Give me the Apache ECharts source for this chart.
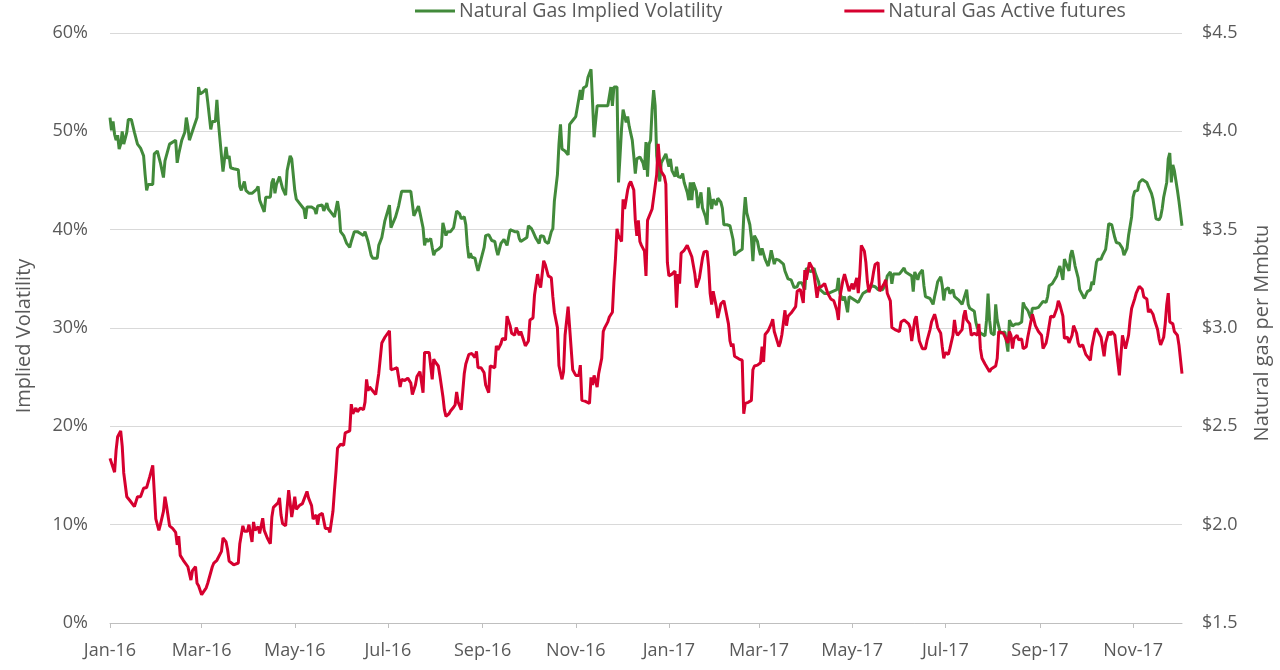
<!DOCTYPE html>
<html>
<head>
<meta charset="utf-8">
<script src="https://cdn.jsdelivr.net/npm/echarts@6/dist/echarts.min.js"></script>
<style>
html,body{margin:0;padding:0;background:#fff;}
#chart{width:1280px;height:670px;}
</style>
</head>
<body>
<div id="chart"></div>
<script>
// Axis range (first and last day of the daily date axis)
const startDate = '2016-01-01';
const endDate = '2017-12-03';

// Tick positions and their labels
const tickDates = ['2016-01-01','2016-03-01','2016-05-01','2016-07-01','2016-09-01','2016-11-01',
  '2017-01-01','2017-03-01','2017-05-01','2017-07-01','2017-09-01','2017-11-01'];
const tickLabels = ['Jan-16','Mar-16','May-16','Jul-16','Sep-16','Nov-16',
  'Jan-17','Mar-17','May-17','Jul-17','Sep-17','Nov-17'];

const seriesNames = ['Natural Gas Implied Volatility', 'Natural Gas Active futures'];

// Natural Gas Implied Volatility (%)
const impliedVol = [
['2016-01-01',51.4],['2016-01-02',50.1],['2016-01-03',51.0],['2016-01-04',49.7],['2016-01-05',49.1],['2016-01-06',49.6],['2016-01-07',48.2],['2016-01-08',48.7],['2016-01-09',50.0],['2016-01-10',48.7],
['2016-01-12',49.9],['2016-01-13',51.2],['2016-01-15',51.2],['2016-01-17',49.9],['2016-01-18',49.9],['2016-01-19',48.7],['2016-01-21',48.3],['2016-01-23',47.5],['2016-01-24',45.6],['2016-01-25',44.0],
['2016-01-26',44.6],['2016-01-29',44.6],['2016-01-30',47.7],['2016-02-01',48.0],['2016-02-03',46.8],['2016-02-05',45.3],['2016-02-06',47.0],['2016-02-07',47.2],['2016-02-09',48.7],['2016-02-10',48.9],
['2016-02-13',49.1],['2016-02-14',46.8],['2016-02-15',47.7],['2016-02-17',49.1],['2016-02-19',49.9],['2016-02-20',51.4],['2016-02-21',50.5],['2016-02-22',49.1],['2016-02-23',48.9],['2016-02-25',50.5],
['2016-02-27',51.4],['2016-02-28',54.5],['2016-02-29',53.8],['2016-03-02',54.0],['2016-03-04',54.3],['2016-03-05',53.0],['2016-03-07',50.2],['2016-03-08',51.0],['2016-03-10',51.0],['2016-03-11',53.2],
['2016-03-12',50.9],['2016-03-14',47.5],['2016-03-15',45.9],['2016-03-16',47.2],['2016-03-17',48.4],['2016-03-18',47.2],['2016-03-19',47.5],['2016-03-20',46.3],['2016-03-22',46.2],['2016-03-25',46.1],
['2016-03-26',44.4],['2016-03-27',44.0],['2016-03-29',44.9],['2016-03-30',44.0],['2016-04-01',43.7],['2016-04-02',43.6],['2016-04-03',43.7],['2016-04-04',43.5],['2016-04-06',44.1],['2016-04-07',44.4],
['2016-04-08',43.0],['2016-04-09',42.9],['2016-04-11',41.8],['2016-04-12',43.3],['2016-04-15',43.3],['2016-04-16',44.8],['2016-04-17',45.2],['2016-04-18',43.7],['2016-04-19',44.6],['2016-04-21',45.4],
['2016-04-23',44.2],['2016-04-25',43.5],['2016-04-26',46.0],['2016-04-28',47.5],['2016-04-29',47.2],['2016-05-01',44.0],['2016-05-02',43.1],['2016-05-04',42.7],['2016-05-05',42.5],['2016-05-07',42.1],
['2016-05-08',41.1],['2016-05-09',42.3],['2016-05-12',42.3],['2016-05-14',42.1],['2016-05-15',41.6],['2016-05-16',42.4],['2016-05-19',42.5],['2016-05-20',41.9],['2016-05-22',42.7],['2016-05-23',42.1],
['2016-05-25',41.7],['2016-05-27',41.3],['2016-05-29',42.9],['2016-05-30',41.9],['2016-05-31',39.8],['2016-06-02',39.4],['2016-06-04',38.6],['2016-06-06',38.2],['2016-06-07',38.8],['2016-06-09',39.8],
['2016-06-11',39.8],['2016-06-13',39.6],['2016-06-15',39.4],['2016-06-16',39.8],['2016-06-18',38.8],['2016-06-20',37.4],['2016-06-21',37.1],['2016-06-24',37.1],['2016-06-25',38.4],['2016-06-27',39.2],
['2016-06-29',40.9],['2016-07-02',42.5],['2016-07-03',40.2],['2016-07-06',41.3],['2016-07-08',42.4],['2016-07-10',43.9],['2016-07-11',44.0],['2016-07-14',43.9],['2016-07-15',43.7],['2016-07-16',43.9],
['2016-07-18',41.4],['2016-07-19',41.6],['2016-07-21',42.4],['2016-07-22',41.7],['2016-07-24',40.2],['2016-07-25',38.4],['2016-07-26',39.1],['2016-07-27',38.8],['2016-07-29',39.1],['2016-07-30',38.2],
['2016-07-31',37.4],['2016-08-01',37.8],['2016-08-03',38.0],['2016-08-05',38.3],['2016-08-06',40.7],['2016-08-07',40.7],['2016-08-08',39.4],['2016-08-09',39.8],['2016-08-11',39.8],['2016-08-13',40.2],
['2016-08-14',40.0],['2016-08-15',41.9],['2016-08-17',41.6],['2016-08-18',41.1],['2016-08-20',41.3],['2016-08-21',40.5],['2016-08-22',38.4],['2016-08-23',37.1],['2016-08-24',37.6],['2016-08-25',37.2],
['2016-08-27',37.1],['2016-08-28',36.4],['2016-08-29',35.8],['2016-08-31',37.0],['2016-09-02',38.2],['2016-09-03',39.4],['2016-09-05',39.5],['2016-09-07',38.9],['2016-09-09',38.8],['2016-09-10',38.0],
['2016-09-11',37.4],['2016-09-13',38.6],['2016-09-15',39.0],['2016-09-16',39.1],['2016-09-17',38.4],['2016-09-19',40.0],['2016-09-20',40.2],['2016-09-22',39.8],['2016-09-24',39.8],['2016-09-25',39.1],
['2016-09-26',38.8],['2016-09-28',39.0],['2016-09-30',39.2],['2016-10-01',40.4],['2016-10-03',40.1],['2016-10-04',39.8],['2016-10-06',39.1],['2016-10-08',38.6],['2016-10-09',39.4],['2016-10-11',39.3],
['2016-10-12',38.8],['2016-10-14',38.6],['2016-10-16',39.8],['2016-10-17',40.1],['2016-10-18',42.9],['2016-10-20',45.6],['2016-10-21',48.7],['2016-10-22',50.7],['2016-10-23',48.2],['2016-10-25',48.0],
['2016-10-27',47.6],['2016-10-28',50.7],['2016-10-30',51.1],['2016-11-01',51.5],['2016-11-02',52.4],['2016-11-04',54.2],['2016-11-05',53.2],['2016-11-06',54.4],['2016-11-08',54.6],['2016-11-09',55.5],
['2016-11-11',56.3],['2016-11-12',53.0],['2016-11-13',49.4],['2016-11-15',52.6],['2016-11-19',52.6],['2016-11-22',52.6],['2016-11-24',54.5],['2016-11-25',52.6],['2016-11-26',54.5],['2016-11-28',54.5],
['2016-11-29',44.8],['2016-11-30',47.5],['2016-12-01',50.3],['2016-12-02',52.2],['2016-12-04',50.9],['2016-12-05',51.5],['2016-12-06',50.5],['2016-12-08',49.1],['2016-12-09',47.5],['2016-12-10',45.7],
['2016-12-11',47.2],['2016-12-13',47.4],['2016-12-15',46.8],['2016-12-16',46.1],['2016-12-17',48.9],['2016-12-18',45.4],['2016-12-19',48.7],['2016-12-20',49.1],['2016-12-21',52.2],['2016-12-22',54.2],
['2016-12-23',52.6],['2016-12-24',47.5],['2016-12-26',44.9],['2016-12-27',46.8],['2016-12-29',47.4],['2016-12-30',47.7],['2017-01-01',46.4],['2017-01-02',47.2],['2017-01-03',46.0],['2017-01-05',45.4],
['2017-01-06',46.4],['2017-01-07',45.4],['2017-01-09',45.3],['2017-01-10',45.7],['2017-01-11',44.8],['2017-01-13',43.8],['2017-01-14',43.0],['2017-01-15',44.8],['2017-01-16',43.0],['2017-01-17',44.8],
['2017-01-19',43.9],['2017-01-20',42.2],['2017-01-22',43.8],['2017-01-23',42.2],['2017-01-25',41.3],['2017-01-26',40.5],['2017-01-27',44.3],['2017-01-29',42.1],['2017-01-30',43.1],['2017-02-01',42.5],
['2017-02-02',43.2],['2017-02-04',42.8],['2017-02-05',42.2],['2017-02-06',40.5],['2017-02-08',40.5],['2017-02-10',40.4],['2017-02-12',39.0],['2017-02-13',37.4],['2017-02-15',37.7],['2017-02-18',38.0],
['2017-02-19',41.3],['2017-02-20',43.3],['2017-02-21',41.7],['2017-02-23',40.5],['2017-02-24',39.2],['2017-02-25',36.8],['2017-02-26',39.4],['2017-02-28',38.8],['2017-03-01',38.0],['2017-03-02',37.4],
['2017-03-03',38.1],['2017-03-05',37.0],['2017-03-06',37.0],['2017-03-07',36.3],['2017-03-08',37.0],['2017-03-09',37.9],['2017-03-11',36.5],['2017-03-12',37.0],['2017-03-14',36.9],['2017-03-15',36.7],
['2017-03-17',36.5],['2017-03-18',35.8],['2017-03-20',35.0],['2017-03-22',34.9],['2017-03-24',34.1],['2017-03-26',34.2],['2017-03-27',34.6],['2017-03-29',34.6],['2017-03-31',33.9],['2017-04-01',36.1],
['2017-04-02',36.1],['2017-04-04',35.7],['2017-04-05',35.9],['2017-04-06',36.1],['2017-04-07',35.5],['2017-04-09',34.7],['2017-04-10',33.9],['2017-04-13',33.5],['2017-04-15',33.5],['2017-04-18',33.7],
['2017-04-19',33.5],['2017-04-21',33.9],['2017-04-22',35.1],['2017-04-23',33.5],['2017-04-25',32.8],['2017-04-26',33.2],['2017-04-27',33.4],['2017-04-28',31.6],['2017-04-29',33.2],['2017-05-01',33.0],
['2017-05-03',32.8],['2017-05-05',32.6],['2017-05-06',32.4],['2017-05-08',33.5],['2017-05-09',33.7],['2017-05-11',33.8],['2017-05-12',33.9],['2017-05-14',34.3],['2017-05-16',34.2],['2017-05-18',33.9],
['2017-05-19',33.7],['2017-05-21',33.9],['2017-05-23',34.5],['2017-05-24',35.3],['2017-05-26',35.7],['2017-05-27',34.5],['2017-05-28',35.5],['2017-05-30',35.5],['2017-06-01',35.5],['2017-06-02',35.7],
['2017-06-04',36.1],['2017-06-05',35.7],['2017-06-07',35.5],['2017-06-09',35.3],['2017-06-10',33.7],['2017-06-11',35.7],['2017-06-12',35.3],['2017-06-13',34.9],['2017-06-14',35.5],['2017-06-16',35.9],
['2017-06-17',34.3],['2017-06-18',33.2],['2017-06-19',33.2],['2017-06-21',33.0],['2017-06-23',32.4],['2017-06-24',33.2],['2017-06-25',33.9],['2017-06-26',34.7],['2017-06-28',35.2],['2017-06-29',34.3],
['2017-06-30',32.8],['2017-07-01',33.9],['2017-07-03',34.1],['2017-07-04',33.5],['2017-07-06',33.9],['2017-07-07',33.2],['2017-07-08',33.4],['2017-07-10',32.8],['2017-07-11',32.6],['2017-07-12',32.4],
['2017-07-13',32.6],['2017-07-15',33.9],['2017-07-16',32.4],['2017-07-17',32.0],['2017-07-18',31.8],['2017-07-20',31.7],['2017-07-21',30.6],['2017-07-22',30.0],['2017-07-24',29.5],['2017-07-25',29.3],
['2017-07-27',29.2],['2017-07-28',30.8],['2017-07-29',33.5],['2017-07-30',30.8],['2017-07-31',29.5],['2017-08-02',29.3],['2017-08-03',32.4],['2017-08-04',30.8],['2017-08-06',29.5],['2017-08-07',29.3],
['2017-08-09',29.6],['2017-08-11',27.6],['2017-08-12',30.8],['2017-08-13',31.0],['2017-08-14',30.2],['2017-08-16',30.4],['2017-08-18',30.4],['2017-08-20',30.6],['2017-08-21',32.6],['2017-08-22',32.2],
['2017-08-24',31.8],['2017-08-25',31.6],['2017-08-26',31.0],['2017-08-27',32.0],['2017-08-29',32.0],['2017-08-31',32.1],['2017-09-01',32.2],['2017-09-03',32.7],['2017-09-04',32.6],['2017-09-05',32.6],
['2017-09-06',33.2],['2017-09-07',34.3],['2017-09-09',34.5],['2017-09-10',34.7],['2017-09-12',35.3],['2017-09-13',35.9],['2017-09-14',36.3],['2017-09-15',36.1],['2017-09-16',34.9],['2017-09-17',37.0],
['2017-09-18',36.6],['2017-09-20',35.8],['2017-09-21',37.4],['2017-09-22',37.9],['2017-09-23',37.2],['2017-09-24',36.3],['2017-09-26',35.1],['2017-09-27',33.9],['2017-09-29',33.3],['2017-09-30',33.0],
['2017-10-02',33.7],['2017-10-04',33.9],['2017-10-05',34.7],['2017-10-06',34.4],['2017-10-08',36.7],['2017-10-09',37.0],['2017-10-11',37.0],['2017-10-12',37.4],['2017-10-14',38.0],['2017-10-15',39.2],
['2017-10-16',40.6],['2017-10-17',40.7],['2017-10-18',40.5],['2017-10-20',39.2],['2017-10-21',38.7],['2017-10-23',38.6],['2017-10-25',38.1],['2017-10-26',37.4],['2017-10-28',38.1],['2017-10-29',39.4],
['2017-10-31',41.3],['2017-11-01',43.3],['2017-11-02',43.9],['2017-11-04',44.0],['2017-11-05',44.8],['2017-11-07',45.1],['2017-11-08',45.1],['2017-11-10',44.8],['2017-11-11',44.4],['2017-11-13',43.7],
['2017-11-14',43.1],['2017-11-15',42.1],['2017-11-16',41.1],['2017-11-18',41.0],['2017-11-19',41.3],['2017-11-20',42.1],['2017-11-21',43.3],['2017-11-23',44.8],['2017-11-24',47.2],['2017-11-25',47.8],
['2017-11-26',44.8],['2017-11-27',46.6],['2017-11-28',46.0],['2017-11-29',45.0],['2017-11-30',44.0],['2017-12-01',42.9],['2017-12-03',40.4]
];

// Natural Gas Active futures ($ per MMBtu)
const gasPrice = [
['2016-01-01',2.337],['2016-01-02',2.331],['2016-01-04',2.267],['2016-01-05',2.379],['2016-01-06',2.447],['2016-01-08',2.477],['2016-01-09',2.399],['2016-01-10',2.263],['2016-01-11',2.263],['2016-01-12',2.142],
['2016-01-14',2.123],['2016-01-17',2.092],['2016-01-19',2.142],['2016-01-21',2.142],['2016-01-23',2.185],['2016-01-25',2.189],['2016-01-27',2.243],['2016-01-29',2.302],['2016-01-30',2.165],['2016-01-31',2.029],
['2016-02-02',1.971],['2016-02-03',2.000],['2016-02-05',2.068],['2016-02-06',2.142],['2016-02-07',2.097],['2016-02-09',1.994],['2016-02-11',1.981],['2016-02-13',1.961],['2016-02-14',1.897],['2016-02-15',1.942],
['2016-02-16',1.844],['2016-02-18',1.819],['2016-02-19',1.815],['2016-02-21',1.786],['2016-02-22',1.776],['2016-02-23',1.718],['2016-02-24',1.766],['2016-02-26',1.786],['2016-02-27',1.702],['2016-02-28',1.689],
['2016-03-01',1.644],['2016-03-02',1.656],['2016-03-04',1.679],['2016-03-05',1.702],['2016-03-08',1.786],['2016-03-09',1.805],['2016-03-11',1.819],['2016-03-12',1.815],['2016-03-14',1.864],['2016-03-15',1.932],
['2016-03-17',1.912],['2016-03-18',1.873],['2016-03-19',1.815],['2016-03-20',1.825],['2016-03-22',1.796],['2016-03-25',1.805],['2016-03-26',1.903],['2016-03-28',1.994],['2016-03-29',1.967],['2016-03-31',1.967],
['2016-04-01',2.000],['2016-04-03',1.912],['2016-04-04',2.014],['2016-04-05',1.971],['2016-04-07',1.990],['2016-04-08',1.955],['2016-04-10',2.033],['2016-04-11',1.971],['2016-04-13',1.932],['2016-04-15',1.903],
['2016-04-16',2.039],['2016-04-17',2.088],['2016-04-18',2.084],['2016-04-20',2.111],['2016-04-21',2.136],['2016-04-22',2.049],['2016-04-23',2.006],['2016-04-25',1.994],['2016-04-26',2.088],['2016-04-27',2.175],
['2016-04-29',2.039],['2016-04-30',2.088],['2016-05-01',2.142],['2016-05-02',2.078],['2016-05-04',2.097],['2016-05-06',2.107],['2016-05-07',2.111],['2016-05-09',2.169],['2016-05-10',2.136],['2016-05-12',2.097],
['2016-05-13',2.029],['2016-05-15',2.049],['2016-05-16',2.000],['2016-05-17',2.049],['2016-05-19',2.058],['2016-05-20',2.053],['2016-05-21',1.981],['2016-05-23',1.981],['2016-05-24',1.961],['2016-05-26',2.068],
['2016-05-27',2.175],['2016-05-28',2.272],['2016-05-29',2.389],['2016-05-31',2.409],['2016-06-02',2.403],['2016-06-03',2.467],['2016-06-06',2.477],['2016-06-07',2.613],['2016-06-08',2.564],['2016-06-10',2.593],
['2016-06-11',2.574],['2016-06-13',2.593],['2016-06-15',2.584],['2016-06-16',2.623],['2016-06-17',2.739],['2016-06-18',2.681],['2016-06-19',2.700],['2016-06-21',2.681],['2016-06-23',2.662],['2016-06-25',2.769],
['2016-06-27',2.924],['2016-06-29',2.953],['2016-07-02',2.986],['2016-07-03',2.788],['2016-07-05',2.792],['2016-07-07',2.798],['2016-07-09',2.700],['2016-07-10',2.739],['2016-07-12',2.733],['2016-07-14',2.745],
['2016-07-15',2.753],['2016-07-16',2.720],['2016-07-17',2.662],['2016-07-19',2.710],['2016-07-20',2.753],['2016-07-22',2.778],['2016-07-24',2.671],['2016-07-25',2.876],['2016-07-26',2.880],['2016-07-28',2.876],
['2016-07-30',2.739],['2016-07-31',2.842],['2016-08-01',2.827],['2016-08-03',2.807],['2016-08-04',2.759],['2016-08-06',2.652],['2016-08-07',2.584],['2016-08-08',2.551],['2016-08-10',2.564],['2016-08-11',2.578],
['2016-08-13',2.597],['2016-08-14',2.609],['2016-08-15',2.675],['2016-08-16',2.623],['2016-08-18',2.584],['2016-08-20',2.769],['2016-08-21',2.817],['2016-08-23',2.866],['2016-08-25',2.870],['2016-08-27',2.850],
['2016-08-28',2.881],['2016-08-29',2.798],['2016-08-31',2.798],['2016-09-01',2.792],['2016-09-02',2.772],['2016-09-03',2.710],['2016-09-05',2.671],['2016-09-06',2.807],['2016-09-07',2.798],['2016-09-09',2.798],
['2016-09-10',2.909],['2016-09-11',2.889],['2016-09-13',2.920],['2016-09-14',2.947],['2016-09-16',2.940],['2016-09-17',3.060],['2016-09-19',3.012],['2016-09-20',2.973],['2016-09-22',2.963],['2016-09-23',3.002],
['2016-09-25',2.963],['2016-09-26',2.982],['2016-09-28',2.934],['2016-09-29',2.909],['2016-10-01',2.934],['2016-10-02',3.041],['2016-10-04',3.051],['2016-10-05',3.168],['2016-10-07',3.274],['2016-10-08',3.226],
['2016-10-09',3.206],['2016-10-11',3.342],['2016-10-12',3.323],['2016-10-13',3.294],['2016-10-14',3.265],['2016-10-16',3.255],['2016-10-17',3.158],['2016-10-18',3.080],['2016-10-20',3.002],['2016-10-21',2.808],
['2016-10-23',2.739],['2016-10-24',2.778],['2016-10-25',2.963],['2016-10-27',3.109],['2016-10-28',3.002],['2016-10-30',2.788],['2016-11-01',2.759],['2016-11-03',2.759],['2016-11-04',2.811],['2016-11-05',2.632],
['2016-11-07',2.628],['2016-11-08',2.622],['2016-11-10',2.617],['2016-11-11',2.749],['2016-11-12',2.710],['2016-11-13',2.759],['2016-11-15',2.700],['2016-11-16',2.768],['2016-11-18',2.846],['2016-11-19',2.982],
['2016-11-20',3.002],['2016-11-22',3.031],['2016-11-23',3.056],['2016-11-25',3.080],['2016-11-26',3.235],['2016-11-27',3.352],['2016-11-28',3.504],['2016-11-29',3.469],['2016-12-01',3.440],['2016-12-02',3.654],
['2016-12-03',3.605],['2016-12-05',3.702],['2016-12-06',3.732],['2016-12-07',3.745],['2016-12-09',3.702],['2016-12-10',3.547],['2016-12-11',3.469],['2016-12-12',3.547],['2016-12-13',3.440],['2016-12-14',3.420],
['2016-12-15',3.411],['2016-12-16',3.391],['2016-12-17',3.265],['2016-12-18',3.547],['2016-12-19',3.556],['2016-12-21',3.605],['2016-12-22',3.663],['2016-12-24',3.780],['2016-12-25',3.936],['2016-12-26',3.839],
['2016-12-27',3.796],['2016-12-29',3.771],['2016-12-30',3.732],['2016-12-31',3.333],['2017-01-01',3.265],['2017-01-03',3.274],['2017-01-05',3.290],['2017-01-06',3.103],['2017-01-07',3.274],['2017-01-08',3.226],
['2017-01-09',3.381],['2017-01-11',3.395],['2017-01-13',3.420],['2017-01-14',3.411],['2017-01-16',3.362],['2017-01-17',3.352],['2017-01-18',3.274],['2017-01-19',3.206],['2017-01-21',3.255],['2017-01-23',3.356],
['2017-01-24',3.387],['2017-01-26',3.391],['2017-01-27',3.313],['2017-01-28',3.177],['2017-01-29',3.119],['2017-01-30',3.187],['2017-02-01',3.109],['2017-02-02',3.051],['2017-02-04',3.123],['2017-02-06',3.138],
['2017-02-07',3.099],['2017-02-09',3.021],['2017-02-10',2.934],['2017-02-11',2.905],['2017-02-12',2.920],['2017-02-13',2.856],['2017-02-16',2.842],['2017-02-18',2.836],['2017-02-19',2.564],['2017-02-20',2.617],
['2017-02-22',2.622],['2017-02-24',2.632],['2017-02-25',2.788],['2017-02-26',2.807],['2017-02-28',2.811],['2017-03-02',2.823],['2017-03-03',2.905],['2017-03-04',2.827],['2017-03-05',2.967],['2017-03-07',2.986],
['2017-03-09',3.021],['2017-03-10',3.045],['2017-03-11',2.982],['2017-03-12',2.973],['2017-03-14',2.905],['2017-03-15',2.928],['2017-03-16',2.967],['2017-03-18',3.090],['2017-03-19',3.012],['2017-03-20',3.060],
['2017-03-22',3.076],['2017-03-23',3.076],['2017-03-25',3.109],['2017-03-26',3.187],['2017-03-28',3.197],['2017-03-29',3.197],['2017-03-30',3.128],['2017-03-31',3.294],['2017-04-01',3.245],['2017-04-03',3.333],
['2017-04-05',3.304],['2017-04-06',3.274],['2017-04-07',3.216],['2017-04-08',3.154],['2017-04-09',3.206],['2017-04-11',3.212],['2017-04-13',3.226],['2017-04-15',3.177],['2017-04-17',3.148],['2017-04-19',3.138],
['2017-04-21',3.090],['2017-04-22',3.041],['2017-04-23',3.158],['2017-04-25',3.245],['2017-04-26',3.274],['2017-04-29',3.187],['2017-04-30',3.181],['2017-05-01',3.226],['2017-05-02',3.197],['2017-05-04',3.255],
['2017-05-05',3.177],['2017-05-06',3.274],['2017-05-07',3.420],['2017-05-09',3.391],['2017-05-10',3.333],['2017-05-11',3.235],['2017-05-12',3.181],['2017-05-14',3.235],['2017-05-15',3.284],['2017-05-16',3.323],
['2017-05-18',3.333],['2017-05-19',3.187],['2017-05-20',3.197],['2017-05-22',3.226],['2017-05-23',3.245],['2017-05-24',3.177],['2017-05-26',3.138],['2017-05-27',3.002],['2017-05-29',2.992],['2017-06-01',2.982],
['2017-06-02',3.031],['2017-06-04',3.041],['2017-06-05',3.031],['2017-06-07',3.021],['2017-06-08',3.002],['2017-06-09',2.934],['2017-06-11',3.041],['2017-06-12',3.060],['2017-06-13',2.992],['2017-06-14',2.934],
['2017-06-16',2.895],['2017-06-18',2.895],['2017-06-19',2.934],['2017-06-21',2.992],['2017-06-22',3.031],['2017-06-24',3.070],['2017-06-25',3.041],['2017-06-26',3.002],['2017-06-28',2.973],['2017-06-29',2.905],
['2017-06-30',2.846],['2017-07-01',2.875],['2017-07-03',2.866],['2017-07-04',2.895],['2017-07-06',2.963],['2017-07-07',3.041],['2017-07-08',2.982],['2017-07-09',2.963],['2017-07-10',2.973],['2017-07-12',2.992],
['2017-07-13',3.060],['2017-07-14',3.090],['2017-07-15',3.041],['2017-07-17',3.021],['2017-07-18',2.963],['2017-07-19',2.953],['2017-07-20',2.973],['2017-07-22',2.963],['2017-07-23',3.021],['2017-07-24',2.895],
['2017-07-25',2.846],['2017-07-27',2.817],['2017-07-28',2.817],['2017-07-30',2.778],['2017-07-31',2.792],['2017-08-03',2.807],['2017-08-04',2.846],['2017-08-05',2.982],['2017-08-06',2.982],['2017-08-08',2.973],
['2017-08-09',2.963],['2017-08-11',2.924],['2017-08-12',2.982],['2017-08-13',2.963],['2017-08-14',2.895],['2017-08-15',2.947],['2017-08-17',2.963],['2017-08-18',2.940],['2017-08-20',2.944],['2017-08-21',2.895],
['2017-08-23',2.905],['2017-08-24',2.953],['2017-08-25',2.944],['2017-08-27',3.070],['2017-08-28',3.060],['2017-08-29',3.012],['2017-08-31',2.982],['2017-09-01',2.992],['2017-09-02',2.963],['2017-09-03',2.895],
['2017-09-05',2.924],['2017-09-06',2.963],['2017-09-08',3.060],['2017-09-09',3.070],['2017-09-10',3.056],['2017-09-12',3.099],['2017-09-13',3.138],['2017-09-14',3.119],['2017-09-16',3.060],['2017-09-17',2.947],
['2017-09-19',2.953],['2017-09-20',2.924],['2017-09-22',2.963],['2017-09-23',3.012],['2017-09-25',2.973],['2017-09-26',2.924],['2017-09-27',2.905],['2017-09-29',2.914],['2017-09-30',2.909],['2017-10-01',2.866],
['2017-10-02',2.856],['2017-10-04',2.836],['2017-10-05',2.905],['2017-10-07',2.982],['2017-10-08',2.998],['2017-10-09',2.982],['2017-10-11',2.953],['2017-10-12',2.963],['2017-10-13',2.856],['2017-10-14',2.924],
['2017-10-16',2.982],['2017-10-17',2.963],['2017-10-18',2.982],['2017-10-20',2.963],['2017-10-21',2.895],['2017-10-22',2.827],['2017-10-23',2.759],['2017-10-25',2.963],['2017-10-26',2.973],['2017-10-27',2.895],
['2017-10-28',2.895],['2017-10-29',2.963],['2017-10-30',3.041],['2017-10-31',3.099],['2017-11-02',3.148],['2017-11-03',3.177],['2017-11-05',3.212],['2017-11-07',3.197],['2017-11-08',3.158],['2017-11-10',3.148],
['2017-11-11',3.080],['2017-11-12',3.095],['2017-11-14',3.070],['2017-11-15',3.041],['2017-11-17',2.992],['2017-11-18',2.944],['2017-11-19',2.914],['2017-11-21',2.953],['2017-11-22',3.021],['2017-11-23',3.119],
['2017-11-24',3.177],['2017-11-25',3.031],['2017-11-26',3.041],['2017-11-27',3.021],['2017-11-28',2.982],['2017-11-30',2.963],['2017-12-01',2.914],['2017-12-02',2.914],['2017-12-03',2.768]
];

// Daily category list for the date axis
const days = [];
(function () {
  const d = new Date(startDate + 'T00:00:00Z');
  const end = new Date(endDate + 'T00:00:00Z');
  while (d <= end) {
    days.push(d.toISOString().slice(0, 10));
    d.setUTCDate(d.getUTCDate() + 1);
  }
})();

const isTick = (idx, val) => tickDates.indexOf(val) !== -1;
const textColor = '#595959';
const fontFamily = "'Open Sans', sans-serif";

const chart = echarts.init(document.getElementById('chart'), null, { renderer: 'canvas' });
chart.setOption({
  animation: false,
  backgroundColor: '#ffffff',
  textStyle: { fontFamily: fontFamily, color: textColor },
  legend: {
    top: -4,
    left: 410,
    itemGap: 122,
    itemWidth: 40,
    itemHeight: 3,
    icon: 'rect',
    textStyle: { fontSize: 19.5, color: textColor, fontFamily: fontFamily, padding: [0, 0, 0, -1] },
    data: seriesNames
  },
  grid: { left: 110, right: 98, top: 33, bottom: 47, containLabel: false, outerBoundsMode: 'none' },
  xAxis: {
    type: 'category',
    data: days,
    boundaryGap: false,
    axisLine: { show: true, lineStyle: { color: '#bfbfbf', width: 1 } },
    axisTick: { show: true, interval: isTick, length: 5, lineStyle: { color: '#bfbfbf' } },
    axisLabel: {
      interval: isTick,
      margin: 19,
      fontSize: 18,
      color: textColor,
      fontFamily: fontFamily,
      formatter: (val) => tickLabels[tickDates.indexOf(val)]
    },
    splitLine: { show: false }
  },
  yAxis: [
    {
      type: 'value',
      min: 0, max: 60, interval: 10,
      name: 'Implied Volatility',
      nameLocation: 'middle',
      nameRotate: 90,
      nameGap: 76,
      nameTextStyle: { fontSize: 20, color: textColor, fontFamily: fontFamily, padding: [0, 16, 0, 0] },
      axisLine: { show: false },
      axisTick: { show: false },
      axisLabel: { formatter: '{value}%', fontSize: 18, color: textColor, margin: 22, fontFamily: fontFamily },
      splitLine: { show: true, lineStyle: { color: '#d9d9d9', width: 1 } }
    },
    {
      type: 'value',
      min: 1.5, max: 4.5, interval: 0.5,
      name: 'Natural gas per Mmbtu',
      nameLocation: 'middle',
      nameRotate: 90,
      nameGap: 70,
      nameTextStyle: { fontSize: 20, color: textColor, fontFamily: fontFamily, padding: [0, 10, 0, 0] },
      axisLine: { show: false },
      axisTick: { show: false },
      axisLabel: { formatter: (v) => '$' + v.toFixed(1), fontSize: 18, color: textColor, margin: 20, fontFamily: fontFamily },
      splitLine: { show: false }
    }
  ],
  series: [
    {
      name: seriesNames[0],
      type: 'line',
      yAxisIndex: 0,
      data: impliedVol,
      symbol: 'none',
      lineStyle: { color: '#428A3B', width: 3 },
      itemStyle: { color: '#428A3B' }
    },
    {
      name: seriesNames[1],
      type: 'line',
      yAxisIndex: 1,
      data: gasPrice,
      symbol: 'none',
      lineStyle: { color: '#D6002F', width: 3 },
      itemStyle: { color: '#D6002F' }
    }
  ]
});
</script>
</body>
</html>
